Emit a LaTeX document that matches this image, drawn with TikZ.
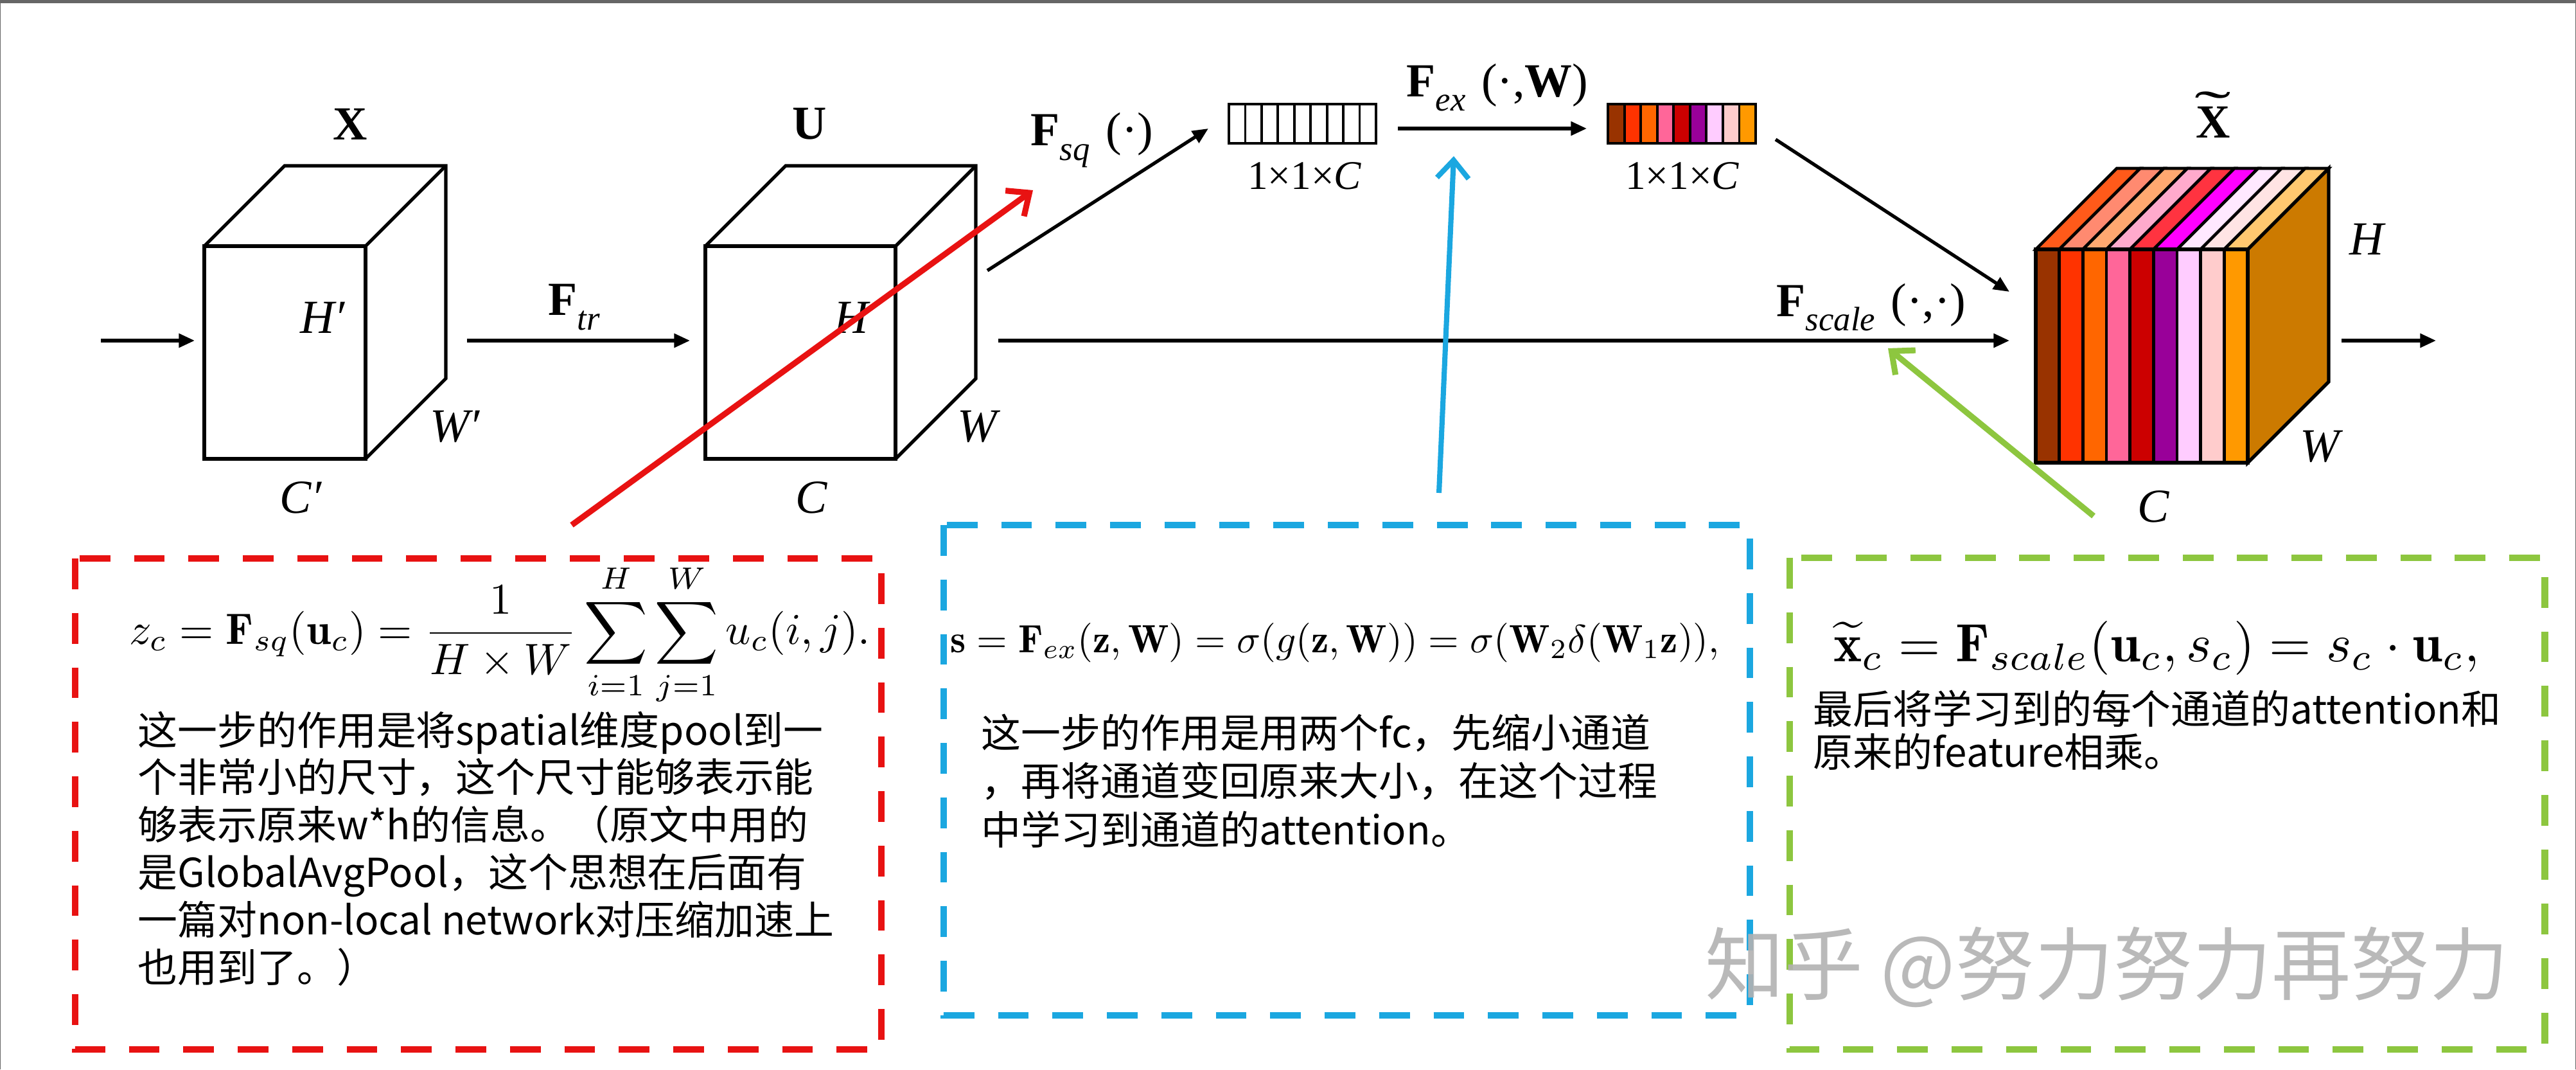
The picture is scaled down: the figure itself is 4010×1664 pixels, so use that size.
\documentclass[tikz,border=0pt]{standalone}
\usepackage{fontspec}
\usepackage{graphicx}
\usetikzlibrary{arrows.meta}
\newfontfamily\tms{Liberation Serif}
\newfontfamily\cjk{Noto Sans CJK SC}
\newlength\px \setlength\px{0.28453pt}
\newcommand\lsub[1]{\raisebox{-0.3em}{\mdseries\itshape\fontsize{15}{15}\selectfont #1}}
\newcommand\wtilde[1]{\ooalign{#1\cr\hidewidth\raisebox{0.22em}{\scalebox{2.3}[1.1]{\mdseries\char"02DC}}\hidewidth\cr}}
\definecolor{frame}{RGB}{102,102,102}
\definecolor{rbox}{RGB}{232,18,18}
\definecolor{bbox}{RGB}{27,167,224}
\definecolor{gbox}{RGB}{141,198,63}
\definecolor{wm}{RGB}{178,178,178}
\definecolor{sidec}{RGB}{204,122,0}
\definecolor{fA}{RGB}{153,51,0}
\definecolor{fB}{RGB}{255,51,0}
\definecolor{fC}{RGB}{255,102,0}
\definecolor{fD}{RGB}{255,102,153}
\definecolor{fE}{RGB}{204,0,0}
\definecolor{fF}{RGB}{153,0,153}
\definecolor{fG}{RGB}{255,204,255}
\definecolor{fH}{RGB}{255,204,204}
\definecolor{fI}{RGB}{255,153,0}
\definecolor{tA}{RGB}{255,90,26}
\definecolor{tB}{RGB}{255,138,112}
\definecolor{tC}{RGB}{255,168,112}
\definecolor{tD}{RGB}{255,170,204}
\definecolor{tE}{RGB}{255,51,64}
\definecolor{tF}{RGB}{255,0,255}
\definecolor{tG}{RGB}{255,232,255}
\definecolor{tH}{RGB}{255,228,228}
\definecolor{tI}{RGB}{255,200,112}
\begin{document}
\begin{tikzpicture}[x=0.01cm,y=-0.01cm,
  cube/.style={line width=1.5pt, line join=miter},
  arr/.style={line width=1.5pt, -{Triangle[length=7pt,width=6pt]}},
  lab/.style={inner sep=0pt, font=\tms\itshape\fontsize{21}{25}\selectfont},
  blab/.style={inner sep=0pt, font=\tms\bfseries\fontsize{21}{25}\selectfont},
  dimlab/.style={inner sep=0pt, font=\tms\fontsize{18}{22}\selectfont},
  note/.style={inner sep=0pt, align=left, anchor=north west, font=\cjk\fontsize{17.6}{21}\selectfont},
  formula/.style={inner sep=0pt},
  dbox/.style={line width=3.1pt, dash pattern=on 13.6pt off 10.5pt},
  hint/.style={line width=2.6pt, -{Straight Barb[length=8pt,width=14pt]}}
]
\useasboundingbox (0,0) rectangle (4010,1664);
\fill[white] (0,0) rectangle (4010,1664);
% frame
\fill[frame] (0,0) rectangle (4010,5);
\fill[frame] (0,0) rectangle (1.5,1664);
\fill[frame] (4008.5,0) rectangle (4010,1664);

% ---- cube X ----
\draw[cube] (318,383) rectangle (569,714);
\draw[cube] (318,383) -- ++(125,-125) -- (694,258) -- (694,589) -- (569,714);
\draw[cube] (569,383) -- (694,258);
\node[blab] (lX) at (545,193) {X};
\node[lab] (lHp) at (502,494) {H′};
\node[lab] (lWp) at (708,664) {W′};
\node[lab] (lCp) at (468,774) {C′};

% ---- cube U ----
\draw[cube] (1098,383) rectangle (1394,714);
\draw[cube] (1098,383) -- ++(125,-125) -- (1519,258) -- (1519,589) -- (1394,714);
\draw[cube] (1394,383) -- (1519,258);
\node[blab] (lU) at (1260,193) {U};
\node[lab] (lH) at (1325,494) {H};
\node[lab] (lW) at (1521,664) {W};
\node[lab] (lC) at (1263,774) {C};

% ---- vectors ----
\foreach \i in {0,...,8}
  \draw[line width=1.1pt] ({1913+\i*25.44},162) rectangle ++(25.44,61);
\foreach \c [count=\i from 0] in {fA,fB,fC,fD,fE,fF,fG,fH,fI}
  \filldraw[fill=\c, line width=1.1pt] ({2503+\i*25.56},162) rectangle ++(25.56,61);
\node[dimlab] (d1) at (2031,274) {1×1×\textit{C}};
\node[dimlab] (d2) at (2619,274) {1×1×\textit{C}};

% ---- coloured cube ----
\foreach \c [count=\i from 0] in {tA,tB,tC,tD,tE,tF,tG,tH,tI}
  \filldraw[fill=\c, line width=1.3pt, line join=miter] ({3169+\i*36.667},388) -- ({3169+(\i+1)*36.667},388) -- ++(126,-126) -- ({3169+\i*36.667+126},262) -- cycle;
\foreach \c [count=\i from 0] in {fA,fB,fC,fD,fE,fF,fG,fH,fI}
  \filldraw[fill=\c, line width=1.3pt] ({3169+\i*36.667},388) rectangle ({3169+(\i+1)*36.667},720);
\filldraw[fill=sidec, line width=1.5pt, line join=miter] (3499,388) -- (3625,262) -- (3625,594) -- (3499,720) -- cycle;
\draw[cube] (3169,388) rectangle (3499,720);
\node[blab] (lXt) at (3445,190) {\wtilde{X}};
\node[lab] (lH2) at (3684,372) {H};
\node[lab] (lW2) at (3611,695) {W};
\node[lab] (lC2) at (3352,788) {C};

% ---- black connectors ----
\coordinate (inS) at (157,530);  \coordinate (inE) at (303,530);
\coordinate (trS) at (727,530);  \coordinate (trE) at (1074,530);
\coordinate (sqS) at (1537,421); \coordinate (sqE) at (1881,200);
\coordinate (exS) at (2176,200); \coordinate (exE) at (2470,200);
\coordinate (scS) at (2764,217); \coordinate (scE) at (3128,454);
\coordinate (lnS) at (1554,530); \coordinate (lnE) at (3128,530);
\coordinate (outS) at (3645,530); \coordinate (outE) at (3792,530);
\draw[arr] (inS) -- (inE);
\draw[arr] (trS) -- (trE);
\draw[arr] (sqS) -- (sqE);
\draw[arr] (exS) -- (exE);
\draw[arr] (scS) -- (scE);
\draw[arr] (lnS) -- (lnE);
\draw[arr] (outS) -- (outE);
\node[blab] (lFtr) at (894,478) {F\lsub{tr}};
\node[blab] (lFsq) at (1700,218) {F\lsub{sq}\,\,{\mdseries(·)}};
\node[blab] (lFex) at (2331,136) {F\lsub{ex}\,\,{\mdseries(·,}W{\mdseries)}};
\node[blab] (lFsc) at (2913,478) {F\lsub{scale}\,\,{\mdseries(·,·)}};

% ---- dashed boxes ----
\draw[dbox, rbox] (117,869) rectangle (1372,1633);
\draw[dbox, bbox] (1469,817) rectangle (2724,1580);
\draw[dbox, gbox] (2786,868) rectangle (3961,1633);

% ---- formulas ----
\node[formula] (fr) at (778,988) {\resizebox{1153\px}{!}{$\displaystyle z_c=\mathbf{F}_{sq}(\mathbf{u}_c)=\frac{1}{H\times W}\sum_{i=1}^{H}\sum_{j=1}^{W}u_c(i,j).$}};
\node[formula] (fb) at (2078,1000) {\resizebox{1197\px}{!}{$\mathbf{s}=\mathbf{F}_{ex}(\mathbf{z},\mathbf{W})=\sigma(g(\mathbf{z},\mathbf{W}))=\sigma(\mathbf{W}_2\delta(\mathbf{W}_1\mathbf{z})),$}};
\node[formula] (fg) at (3357,1009) {\resizebox{1005\px}{!}{$\widetilde{\mathbf{x}}_c=\mathbf{F}_{scale}(\mathbf{u}_c,s_c)=s_c\cdot\mathbf{u}_c,$}};

% ---- notes ----
\node[note] (nr) at (214,1106) {这一步的作用是将spatial维度pool到一\\个非常小的尺寸，这个尺寸能够表示能\\够表示原来w*h的信息。（原文中用的\\是GlobalAvgPool，这个思想在后面有\\一篇对non-local network对压缩加速上\\也用到了。）};
\node[note, font=\cjk\fontsize{17.6}{21.5}\selectfont] (nb) at (1527,1110) {这一步的作用是用两个fc，先缩小通道\\，再将通道变回原来大小，在这个过程\\中学习到通道的attention。};
\node[note, font=\cjk\fontsize{17.6}{19}\selectfont] (ng) at (2822,1073) {最后将学习到的每个通道的attention和\\原来的feature相乘。};

% ---- hint arrows ----
\coordinate (rS) at (890,817);  \coordinate (rE) at (1608,296);
\coordinate (bS) at (2240,767); \coordinate (bE) at (2263,243);
\coordinate (gS) at (3259,803); \coordinate (gE) at (2939,542);
\draw[hint, rbox] (rS) -- (rE);
\draw[hint, bbox, line width=2.3pt] (bS) -- (bE);
\draw[hint, gbox] (gS) -- (gE);

% ---- watermark ----
\node[inner sep=0pt, text=wm, opacity=0.9, font=\cjk\fontsize{35}{40}\selectfont] (wmk) at (3280,1505) {知乎 @努力努力再努力};
\end{tikzpicture}
\end{document}
